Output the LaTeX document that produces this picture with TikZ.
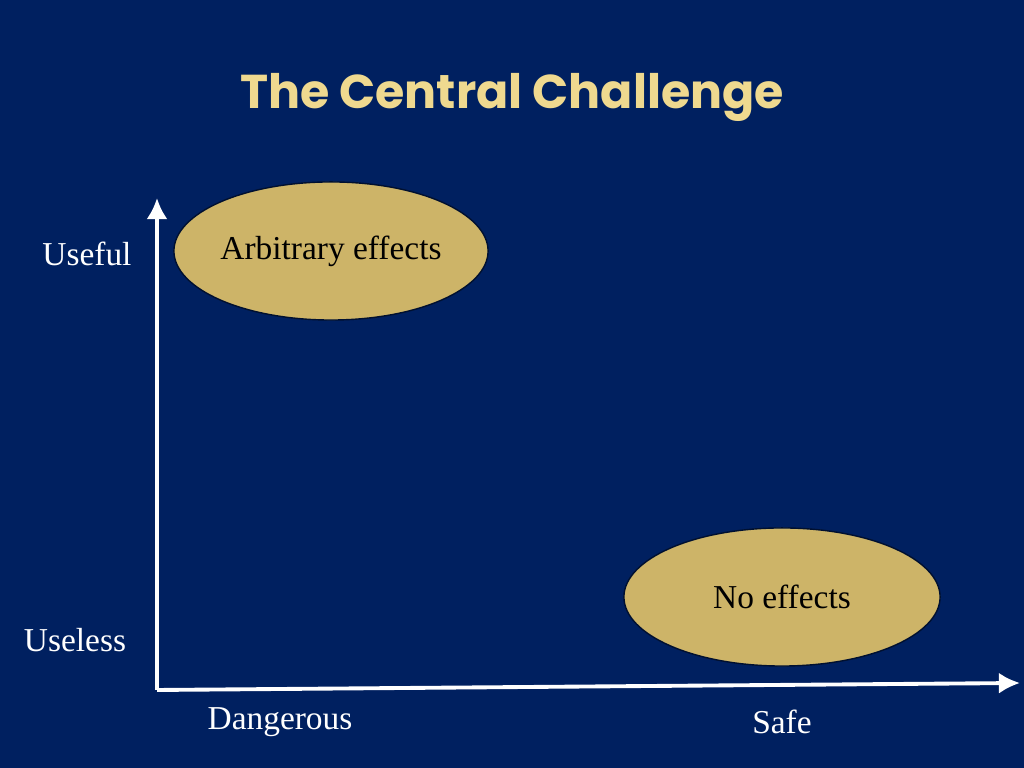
\documentclass[tikz,border=0pt]{standalone}
\usepackage{fontspec}
\setmainfont{Liberation Serif}
\newfontfamily\titlefont{Poppins}
\definecolor{bg}{HTML}{002060}
\definecolor{gold}{HTML}{CDB468}
\definecolor{titlec}{HTML}{EFD98F}
\begin{document}
\begin{tikzpicture}[x=0.01cm,y=-0.01cm,
  blob/.style={ellipse, draw=bg!60!black, fill=gold, minimum width=315\pgflinewidth, inner sep=0pt},
  lab/.style={text=white, font=\fontsize{9.5pt}{11pt}\selectfont},
  axis/.style={white, line width=1.1pt, -{Latex[length=6pt,width=6pt]}}]
\usetikzlibrary{shapes.geometric,arrows.meta}
\fill[bg] (0,0) rectangle (1024,768);
\useasboundingbox (0,0) rectangle (1024,768);
\node[text=titlec, font=\titlefont\bfseries\fontsize{13.5pt}{15pt}\selectfont] (title) at (512,97) {The Central Challenge};
\node[ellipse, draw=bg!50!black, fill=gold, minimum width=314\pgflinewidth, minimum width=3.14cm, minimum height=1.38cm, inner sep=0pt, font=\fontsize{9.5pt}{11pt}\selectfont] (arb) at (331,251) {Arbitrary effects};
\node[ellipse, draw=bg!50!black, fill=gold, minimum width=3.16cm, minimum height=1.38cm, inner sep=0pt, font=\fontsize{9.5pt}{11pt}\selectfont] (no) at (782,597) {No effects};
\coordinate (o) at (157,690);
\coordinate (top) at (157,198);
\coordinate (right) at (1020,683);
\draw[axis] (o) -- (top);
\draw[axis] (o) -- (right);
\node[lab] (useful) at (87,254) {Useful};
\node[lab] (useless) at (75,640) {Useless};
\node[lab] (dang) at (280,722) {Dangerous};
\node[lab] (safe) at (782,722) {Safe};
\end{tikzpicture}
\end{document}
